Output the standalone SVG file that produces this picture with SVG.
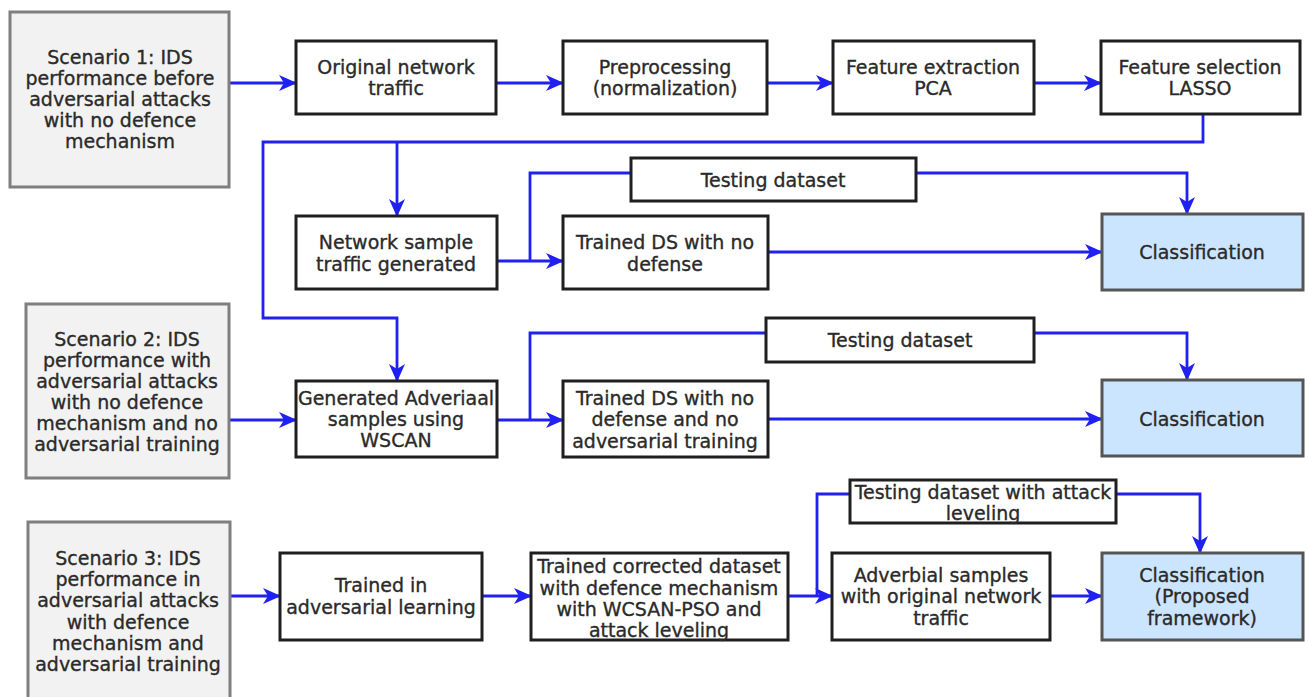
<svg xmlns="http://www.w3.org/2000/svg" width="1308" height="697" viewBox="0 0 1308 697">
  <style>
    .scen { fill: #f2f2f2; stroke: #7f7f7f; stroke-width: 3; }
    .box { fill: #ffffff; stroke: #1f1f1f; stroke-width: 3; }
    .cls { fill: #cce5ff; stroke: #555555; stroke-width: 3; }
    text { font-family: "DejaVu Sans", Verdana, sans-serif; font-size: 19px; fill: #2a2a2a; stroke: #2a2a2a; stroke-width: 0.35; text-anchor: middle; }
    .wire { fill: none; stroke: #2020f0; stroke-width: 2.8; }
  </style>
  <defs>
    <marker id="arrow" markerUnits="userSpaceOnUse" markerWidth="18" markerHeight="16" refX="17" refY="8" orient="auto">
      <path d="M0,0 L18,8 L0,16 L5,8 Z" fill="#2020f0"/>
    </marker>
  </defs>
  <rect width="1308" height="697" fill="#ffffff"/>

  <!-- Connectors -->
  <g id="connectors">
    <path class="wire" d="M229,83 H296" marker-end="url(#arrow)"/>
    <path class="wire" d="M496,83 H563" marker-end="url(#arrow)"/>
    <path class="wire" d="M767,83 H833" marker-end="url(#arrow)"/>
    <path class="wire" d="M1034,83 H1101" marker-end="url(#arrow)"/>
    <path class="wire" d="M1203,114 V142 H263 V318 H397 V381" marker-end="url(#arrow)"/>
    <path class="wire" d="M397,142 V216" marker-end="url(#arrow)"/>
    <path class="wire" d="M497,261 H563" marker-end="url(#arrow)"/>
    <path class="wire" d="M631,173 H530 V261"/>
    <path class="wire" d="M916,173 H1187 V214" marker-end="url(#arrow)"/>
    <path class="wire" d="M768,252 H1102" marker-end="url(#arrow)"/>
    <path class="wire" d="M229,420 H296" marker-end="url(#arrow)"/>
    <path class="wire" d="M497,420 H563" marker-end="url(#arrow)"/>
    <path class="wire" d="M766,333 H530 V420"/>
    <path class="wire" d="M1034,333 H1187 V380" marker-end="url(#arrow)"/>
    <path class="wire" d="M768,419 H1102" marker-end="url(#arrow)"/>
    <path class="wire" d="M229,596 H280" marker-end="url(#arrow)"/>
    <path class="wire" d="M482,596 H531" marker-end="url(#arrow)"/>
    <path class="wire" d="M788,596 H832" marker-end="url(#arrow)"/>
    <path class="wire" d="M817,596 V494 H850"/>
    <path class="wire" d="M1116,494 H1200 V553" marker-end="url(#arrow)"/>
    <path class="wire" d="M1050,596 H1102" marker-end="url(#arrow)"/>
  </g>

  <!-- Scenario 1 -->
  <g id="scenario1">
    <rect class="scen" x="10" y="12" width="219" height="175"/>
    <text x="120" y="64">Scenario 1: IDS</text>
    <text x="120" y="85">performance before</text>
    <text x="120" y="106">adversarial attacks</text>
    <text x="120" y="127">with no defence</text>
    <text x="120" y="148">mechanism</text>
  </g>
  <g id="original">
    <rect class="box" x="296" y="41" width="200" height="73"/>
    <text x="396" y="74">Original network</text>
    <text x="396" y="95">traffic</text>
  </g>
  <g id="preprocessing">
    <rect class="box" x="563" y="41" width="204" height="73"/>
    <text x="665" y="74">Preprocessing</text>
    <text x="665" y="95">(normalization)</text>
  </g>
  <g id="extraction">
    <rect class="box" x="833" y="41" width="201" height="73"/>
    <text x="933" y="74">Feature extraction</text>
    <text x="933" y="95">PCA</text>
  </g>
  <g id="selection">
    <rect class="box" x="1101" y="41" width="199" height="73"/>
    <text x="1200" y="74">Feature selection</text>
    <text x="1200" y="95">LASSO</text>
  </g>
  <g id="sample">
    <rect class="box" x="296" y="216" width="201" height="73"/>
    <text x="396" y="249">Network sample</text>
    <text x="396" y="271">traffic generated</text>
  </g>
  <g id="testing1">
    <rect class="box" x="631" y="158" width="285" height="43"/>
    <text x="773" y="187">Testing dataset</text>
  </g>
  <g id="trained1">
    <rect class="box" x="563" y="216" width="205" height="73"/>
    <text x="665" y="249">Trained DS with no</text>
    <text x="665" y="271">defense</text>
  </g>
  <g id="class1">
    <rect class="cls" x="1102" y="214" width="201" height="76"/>
    <text x="1202" y="259">Classification</text>
  </g>

  <!-- Scenario 2 -->
  <g id="scenario2">
    <rect class="scen" x="26" y="304" width="203" height="174"/>
    <text x="127" y="346">Scenario 2: IDS</text>
    <text x="127" y="367">performance with</text>
    <text x="127" y="388">adversarial attacks</text>
    <text x="127" y="409">with no defence</text>
    <text x="127" y="430">mechanism and no</text>
    <text x="127" y="451">adversarial training</text>
  </g>
  <g id="generated">
    <rect class="box" x="296" y="381" width="201" height="76"/>
    <text x="396" y="405">Generated Adveriaal</text>
    <text x="396" y="426">samples using</text>
    <text x="396" y="447">WSCAN</text>
  </g>
  <g id="testing2">
    <rect class="box" x="766" y="318" width="268" height="44"/>
    <text x="900" y="347">Testing dataset</text>
  </g>
  <g id="trained2">
    <rect class="box" x="563" y="381" width="205" height="76"/>
    <text x="665" y="405">Trained DS with no</text>
    <text x="665" y="426">defense and no</text>
    <text x="665" y="448">adversarial training</text>
  </g>
  <g id="class2">
    <rect class="cls" x="1102" y="380" width="201" height="76"/>
    <text x="1202" y="426">Classification</text>
  </g>

  <!-- Scenario 3 -->
  <g id="scenario3">
    <rect class="scen" x="28" y="522" width="202" height="185"/>
    <text x="128" y="565">Scenario 3: IDS</text>
    <text x="128" y="586">performance in</text>
    <text x="128" y="607">adversarial attacks</text>
    <text x="128" y="629">with defence</text>
    <text x="128" y="650">mechanism and</text>
    <text x="128" y="671">adversarial training</text>
  </g>
  <g id="advlearning">
    <rect class="box" x="280" y="553" width="202" height="87"/>
    <text x="381" y="592">Trained in</text>
    <text x="381" y="614">adversarial learning</text>
  </g>
  <g id="corrected">
    <rect class="box" x="531" y="553" width="257" height="87"/>
    <text x="659" y="573">Trained corrected dataset</text>
    <text x="659" y="595">with defence mechanism</text>
    <text x="659" y="616">with WCSAN-PSO and</text>
    <text x="659" y="637">attack leveling</text>
  </g>
  <g id="testing3">
    <rect class="box" x="850" y="480" width="266" height="43"/>
    <text x="983" y="499">Testing dataset with attack</text>
    <text x="983" y="520">leveling</text>
  </g>
  <g id="adverbial">
    <rect class="box" x="832" y="553" width="218" height="87"/>
    <text x="941" y="582">Adverbial samples</text>
    <text x="941" y="603">with original network</text>
    <text x="941" y="625">traffic</text>
  </g>
  <g id="class3">
    <rect class="cls" x="1102" y="553" width="201" height="87"/>
    <text x="1202" y="582">Classification</text>
    <text x="1202" y="603">(Proposed</text>
    <text x="1202" y="625">framework)</text>
  </g>
</svg>
